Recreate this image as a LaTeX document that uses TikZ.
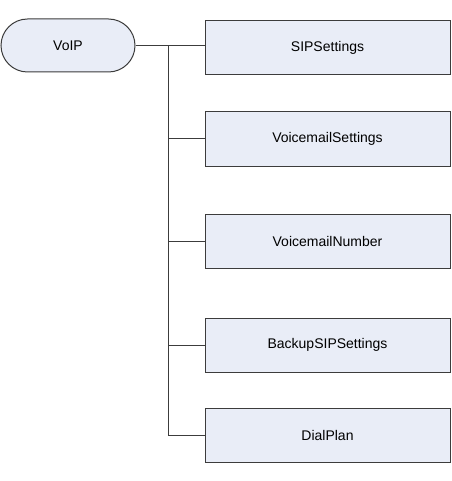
\documentclass[tikz,border=0pt]{standalone}
\usepackage{fontspec}
\setmainfont{Liberation Sans}
\usepackage{tikz}
\usetikzlibrary{positioning}

\definecolor{boxfill}{RGB}{233,237,247}
\definecolor{boxline}{RGB}{60,60,60}

\tikzset{
  setting/.style={draw=boxline, fill=boxfill, line width=1pt, minimum width=245pt, minimum height=54pt, font=\fontsize{14}{16}\selectfont},
  root/.style={setting, rounded corners=26.5pt, minimum width=134pt, minimum height=53pt},
  link/.style={draw=boxline, line width=1pt}
}

\begin{document}
\begin{tikzpicture}[x=1pt,y=-1pt,on grid]
  \useasboundingbox (0,0) rectangle (451,481);
  \node[root]    (voip) at (68,45.5)		{VoIP};
  \node[setting] (sip)  at (327.5,48)		{SIPSettings};
  \node[setting] (vms)  [below=91pt of sip]	{VoicemailSettings};
  \node[setting] (vmn)  [below=102pt of vms]	{VoicemailNumber};
  \node[setting] (bkp)  [below=104pt of vmn]	{BackupSIPSettings};
  \node[setting] (dial) [below=90pt of bkp]	{DialPlan};
  \coordinate (trunk) at (168,45.5);
  \path[link]
   (voip.east) -- (voip -| sip.west);
  \foreach \n in {vms,vmn,bkp,dial}
   \path[link] (trunk) |- (\n.west);
\end{tikzpicture}
\end{document}
